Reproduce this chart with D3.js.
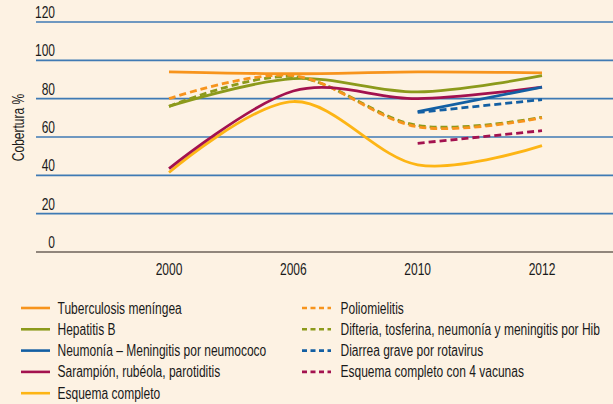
<!DOCTYPE html>
<html>
<head>
<meta charset="utf-8">
<script src="https://cdn.jsdelivr.net/npm/d3@7"></script>
<style>
  html, body { margin: 0; padding: 0; background: #fdf2e3; }
  svg { display: block; }
  text { font-family: "Liberation Sans", Arial, sans-serif; fill: #1a1a1a; }
</style>
</head>
<body>
<div id="chart"></div>
<script>
const W = 613, H = 404;

// categories and ticks
const years = ["2000", "2006", "2010", "2012"];
const yTicks = [0, 20, 40, 60, 80, 100, 120];

// series values (null = no data)
const tuberculosis = [94, 93, 94, 93.5];
const hepatitisB = [76, 90.5, 83.5, 92];
const neumococo = [null, null, 73.3, 86];
const sarampion = [43.5, 84, 80, 86];
const esquemaCompleto = [41.5, 78.5, 45.5, 55.5];
const polio = [80, 92, 65.3, 70];
const difteria = [76, 91.5, 66, 70.3];
const rotavirus = [null, null, 72.8, 79.5];
const esquema4 = [null, null, 56.7, 63.3];

const series = [
  { name: "Esquema completo", values: esquemaCompleto, color: "#fdb515", dash: null },
  { name: "Tuberculosis meníngea", values: tuberculosis, color: "#f7941d", dash: null },
  { name: "Hepatitis B", values: hepatitisB, color: "#8c9a1b", dash: null },
  { name: "Difteria, tosferina, neumonía y meningitis por Hib", values: difteria, color: "#8c9a1b", dash: "7,4" },
  { name: "Poliomielitis", values: polio, color: "#f7941d", dash: "7,4" },
  { name: "Sarampión, rubéola, parotiditis", values: sarampion, color: "#a3124f", dash: null },
  { name: "Neumonía – Meningitis por neumococo", values: neumococo, color: "#135fa3", dash: null },
  { name: "Diarrea grave por rotavirus", values: rotavirus, color: "#135fa3", dash: "7,4" },
  { name: "Esquema completo con 4 vacunas", values: esquema4, color: "#a3124f", dash: "7,4" }
];

const legendLeft = ["Tuberculosis meníngea", "Hepatitis B", "Neumonía – Meningitis por neumococo",
  "Sarampión, rubéola, parotiditis", "Esquema completo"];
const legendRight = ["Poliomielitis", "Difteria, tosferina, neumonía y meningitis por Hib",
  "Diarrea grave por rotavirus", "Esquema completo con 4 vacunas"];

const FONT = 16;
const SQUEEZE = 0.75; // the original uses a condensed face

// squeeze text horizontally to mimic a condensed font
function condense(sel) {
  sel.each(function() {
    const w = this.getComputedTextLength();
    d3.select(this).attr("textLength", w * SQUEEZE).attr("lengthAdjust", "spacingAndGlyphs");
  });
}

const svg = d3.select("#chart").append("svg")
  .attr("width", W).attr("height", H);

svg.append("rect").attr("width", W).attr("height", H).attr("fill", "#fdf2e3");

const x = d3.scalePoint().domain(years).range([169, 542]);
const y = d3.scaleLinear().domain([0, 120]).range([252, 22]);

// grid + tick labels
const grid = svg.append("g");
grid.selectAll("line")
  .data(yTicks)
  .join("line")
  .attr("x1", 36).attr("x2", W)
  .attr("y1", d => y(d)).attr("y2", d => y(d))
  .attr("stroke", d => d === 0 ? "#6d625a" : "#3f7ab4")
  .attr("stroke-width", 1.6);

grid.selectAll("text")
  .data(yTicks)
  .join("text")
  .attr("x", 55).attr("y", d => y(d) - 4)
  .attr("text-anchor", "end")
  .attr("font-size", FONT)
  .text(d => d)
  .call(condense);

svg.append("text")
  .attr("transform", "translate(24,127.5) rotate(-90)")
  .attr("text-anchor", "middle")
  .attr("font-size", FONT)
  .text("Cobertura %")
  .call(condense);

svg.append("g").selectAll("text")
  .data(years)
  .join("text")
  .attr("x", d => x(d)).attr("y", 275)
  .attr("text-anchor", "middle")
  .attr("font-size", FONT)
  .text(d => d)
  .call(condense);

// lines
const line = d3.line()
  .defined(d => d.v != null)
  .x(d => x(d.year))
  .y(d => y(d.v))
  .curve(d3.curveCardinal.tension(0));

svg.append("g").selectAll("path")
  .data(series)
  .join("path")
  .attr("d", s => line(years.map((yr, i) => ({ year: yr, v: s.values[i] }))))
  .attr("fill", "none")
  .attr("stroke", s => s.color)
  .attr("stroke-width", 2.8)
  .attr("stroke-dasharray", s => s.dash);

// legend
const byName = new Map(series.map(s => [s.name, s]));
function drawLegend(names, x0, y0, textX) {
  const g = svg.append("g").attr("transform", `translate(${x0},${y0})`);
  const row = g.selectAll("g")
    .data(names)
    .join("g")
    .attr("transform", (d, i) => `translate(0,${i * 21.3})`);
  row.append("line")
    .attr("x1", 0).attr("x2", 29)
    .attr("stroke", d => byName.get(d).color)
    .attr("stroke-width", 2.6)
    .attr("stroke-dasharray", d => byName.get(d).dash ? "5,3.5" : null);
  row.append("text")
    .attr("x", textX).attr("y", 5.5)
    .attr("font-size", FONT)
    .text(d => d)
    .call(condense);
}
drawLegend(legendLeft, 21, 308, 36.5);
drawLegend(legendRight, 302, 308, 38.5);
</script>
</body>
</html>
